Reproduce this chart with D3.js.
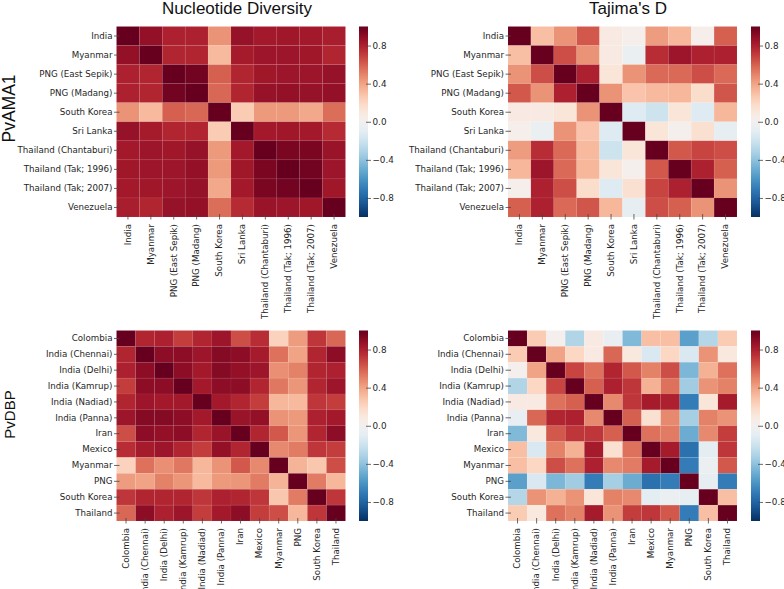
<!DOCTYPE html>
<html>
<head>
<meta charset="utf-8">
<script src="https://cdn.jsdelivr.net/npm/d3@7"></script>
<style>
  html, body { margin: 0; padding: 0; background: #fff; }
  svg { display: block; }
</style>
</head>
<body>
<svg id="chart" width="784" height="589"></svg>
<script>
// ---------- DATA ----------
const amaPops = ["India","Myanmar","PNG (East Sepik)","PNG (Madang)","South Korea","Sri Lanka","Thailand (Chantaburi)","Thailand (Tak; 1996)","Thailand (Tak; 2007)","Venezuela"];
const dbpPops = ["Colombia","India (Chennai)","India (Delhi)","India (Kamrup)","India (Nadiad)","India (Panna)","Iran","Mexico","Myanmar","PNG","South Korea","Thailand"];

const colTitles = ["Nucleotide Diversity", "Tajima's D"];
const rowTitles = ["PvAMA1", "PvDBP"];
const cbTicks = [0.8, 0.4, 0.0, -0.4, -0.8];

// PvAMA1 – nucleotide diversity correlations
const ndAma = [
  [1.00,0.88,0.80,0.80,0.45,0.87,0.83,0.84,0.83,0.81],
  [0.88,1.00,0.78,0.78,0.32,0.82,0.85,0.85,0.84,0.78],
  [0.80,0.78,1.00,0.97,0.60,0.78,0.84,0.85,0.85,0.87],
  [0.80,0.78,0.97,1.00,0.58,0.78,0.87,0.88,0.87,0.88],
  [0.45,0.32,0.60,0.58,1.00,0.25,0.43,0.43,0.38,0.56],
  [0.87,0.82,0.78,0.78,0.25,1.00,0.83,0.84,0.83,0.76],
  [0.83,0.85,0.84,0.87,0.43,0.83,1.00,0.95,0.95,0.86],
  [0.84,0.85,0.85,0.88,0.43,0.84,0.95,1.00,0.97,0.85],
  [0.83,0.84,0.85,0.87,0.38,0.83,0.95,0.97,1.00,0.84],
  [0.81,0.78,0.87,0.88,0.56,0.76,0.86,0.85,0.84,1.00]
];
// PvAMA1 – Tajima's D correlations
const tdAma = [
  [1.00,0.30,0.45,0.62,0.08,0.03,0.42,0.33,0.03,0.60],
  [0.30,1.00,0.65,0.45,0.08,-0.06,0.75,0.85,0.80,0.80],
  [0.45,0.65,1.00,0.80,0.12,0.45,0.57,0.57,0.65,0.57],
  [0.62,0.45,0.80,1.00,0.45,0.28,0.32,0.33,0.17,0.63],
  [0.08,0.08,0.12,0.45,1.00,-0.12,-0.20,0.12,-0.12,0.33],
  [0.03,-0.06,0.45,0.28,-0.12,1.00,0.12,0.02,0.15,-0.08],
  [0.42,0.75,0.57,0.32,-0.20,0.12,1.00,0.62,0.68,0.65],
  [0.33,0.85,0.57,0.33,0.12,0.02,0.62,1.00,0.80,0.60],
  [0.03,0.80,0.65,0.17,-0.12,0.15,0.68,0.80,1.00,0.45],
  [0.60,0.80,0.57,0.63,0.33,-0.08,0.65,0.60,0.45,1.00]
];
// PvDBP – nucleotide diversity correlations
const ndDbp = [
  [1.00,0.78,0.80,0.70,0.78,0.85,0.65,0.75,0.22,0.42,0.72,0.58],
  [0.78,1.00,0.90,0.90,0.85,0.92,0.90,0.82,0.55,0.40,0.78,0.90],
  [0.80,0.90,1.00,0.90,0.83,0.92,0.88,0.85,0.46,0.50,0.78,0.80],
  [0.70,0.90,0.90,1.00,0.83,0.90,0.90,0.78,0.53,0.44,0.78,0.85],
  [0.78,0.85,0.83,0.83,1.00,0.83,0.78,0.70,0.33,0.32,0.72,0.70],
  [0.85,0.92,0.92,0.90,0.83,1.00,0.86,0.88,0.45,0.43,0.80,0.83],
  [0.65,0.90,0.88,0.90,0.78,0.86,1.00,0.78,0.62,0.44,0.78,0.90],
  [0.75,0.82,0.85,0.78,0.70,0.88,0.78,1.00,0.48,0.52,0.72,0.70],
  [0.22,0.55,0.46,0.53,0.33,0.45,0.62,0.48,1.00,0.34,0.27,0.65],
  [0.42,0.40,0.50,0.44,0.32,0.43,0.44,0.52,0.34,1.00,0.52,0.33],
  [0.72,0.78,0.78,0.78,0.72,0.80,0.78,0.72,0.27,0.52,1.00,0.72],
  [0.58,0.90,0.80,0.85,0.70,0.83,0.90,0.70,0.65,0.33,0.72,1.00]
];
// PvDBP – Tajima's D correlations
const tdDbp = [
  [1.00,0.25,0.02,-0.30,0.08,-0.07,-0.44,0.30,0.30,-0.55,-0.29,0.25],
  [0.25,1.00,0.40,0.20,0.08,0.58,0.10,-0.15,0.20,-0.15,0.45,0.10],
  [0.02,0.40,1.00,0.68,0.55,0.78,0.62,0.50,0.65,-0.45,0.35,0.55],
  [-0.30,0.20,0.68,1.00,0.60,0.80,0.72,0.35,0.55,-0.35,0.45,0.50],
  [0.08,0.08,0.55,0.60,1.00,0.48,0.72,0.82,0.80,-0.70,0.12,0.82],
  [-0.07,0.58,0.78,0.80,0.48,1.00,0.60,0.15,0.48,-0.33,0.50,0.45],
  [-0.44,0.10,0.62,0.72,0.72,0.60,1.00,0.55,0.52,-0.50,0.48,0.70],
  [0.30,-0.15,0.50,0.35,0.82,0.15,0.55,1.00,0.82,-0.75,-0.10,0.72],
  [0.30,0.20,0.65,0.55,0.80,0.48,0.52,0.82,1.00,-0.70,-0.05,0.62],
  [-0.55,-0.15,-0.45,-0.35,-0.70,-0.33,-0.50,-0.75,-0.70,1.00,-0.08,-0.70],
  [-0.29,0.45,0.35,0.45,0.12,0.50,0.48,-0.10,-0.05,-0.08,1.00,0.30],
  [0.25,0.10,0.55,0.50,0.82,0.45,0.70,0.72,0.62,-0.70,0.30,1.00]
];

// ---------- LAYOUT ----------
const panels = [
  {labels: amaPops, m: ndAma, x0: 116.5, y0: 26.5, w: 229, h: 190.5, cbx: 359, title: colTitles[0], tx: 237},
  {labels: amaPops, m: tdAma, x0: 508,   y0: 26.5, w: 229, h: 190.5, cbx: 751, title: colTitles[1], tx: 628},
  {labels: dbpPops, m: ndDbp, x0: 116.5, y0: 330.5, w: 229, h: 190.5, cbx: 359},
  {labels: dbpPops, m: tdDbp, x0: 508,   y0: 330.5, w: 229, h: 190.5, cbx: 751}
];
const cbW = 9;
const textCol = "#262626";
const tickFont = "DejaVu Sans, sans-serif";
const tickSize = 8.7;

const svg = d3.select("#chart");
const color = d3.scaleSequential(d3.interpolateRdBu).domain([1, -1]);

// gradient for colorbars
const defs = svg.append("defs");
const grad = defs.append("linearGradient").attr("id", "cbgrad")
  .attr("x1", 0).attr("y1", 1).attr("x2", 0).attr("y2", 0);
d3.range(0, 41).forEach(i => {
  const t = i / 40;
  grad.append("stop").attr("offset", t).attr("stop-color", color(-1 + 2 * t));
});

panels.forEach(p => {
  const x = d3.scaleBand().domain(p.labels).range([p.x0, p.x0 + p.w]);
  const y = d3.scaleBand().domain(p.labels).range([p.y0, p.y0 + p.h]);
  const cells = [];
  p.m.forEach((row, i) => row.forEach((v, j) => cells.push({r: p.labels[i], c: p.labels[j], v})));

  const g = svg.append("g");
  g.selectAll("rect.cell").data(cells).enter().append("rect")
    .attr("class", "cell")
    .attr("x", d => x(d.c)).attr("y", d => y(d.r))
    .attr("width", x.bandwidth()).attr("height", y.bandwidth())
    .attr("fill", d => color(d.v))
    .attr("stroke", "rgba(255,255,255,0.06)").attr("stroke-width", 0.8);

  // y axis
  const ya = svg.append("g").attr("transform", `translate(${p.x0},0)`)
    .call(d3.axisLeft(y).tickSize(2.5).tickPadding(1.5));
  ya.select(".domain").remove();
  ya.selectAll(".tick line").attr("x2", 3).attr("x1", -2.5).attr("stroke", "#444").attr("stroke-width", 0.8);
  ya.selectAll("text").attr("font-family", tickFont).attr("font-size", tickSize).attr("fill", textCol);

  // x axis
  const xa = svg.append("g").attr("transform", `translate(0,${p.y0 + p.h})`)
    .call(d3.axisBottom(x).tickSize(2.5).tickPadding(1.5));
  xa.select(".domain").remove();
  xa.selectAll(".tick line").attr("y1", -3).attr("y2", 2.5).attr("stroke", "#444").attr("stroke-width", 0.8);
  xa.selectAll("text")
    .attr("font-family", tickFont).attr("font-size", tickSize).attr("fill", textCol)
    .attr("transform", "rotate(-90)")
    .attr("text-anchor", "end")
    .attr("x", -7).attr("y", 0).attr("dy", "0.32em");

  // colorbar
  svg.append("rect").attr("x", p.cbx).attr("y", p.y0).attr("width", cbW).attr("height", p.h)
    .attr("fill", "url(#cbgrad)");
  const cs = d3.scaleLinear().domain([-1, 1]).range([p.y0 + p.h, p.y0]);
  const ca = svg.append("g").attr("transform", `translate(${p.cbx + cbW},0)`)
    .call(d3.axisRight(cs).tickValues(cbTicks).tickFormat(d3.format(".1f")).tickSize(3).tickPadding(1.5));
  ca.select(".domain").remove();
  ca.selectAll(".tick line").attr("x1", -2).attr("stroke", "#444").attr("stroke-width", 0.8);
  ca.selectAll("text").attr("font-family", tickFont).attr("font-size", 8.8).attr("fill", textCol);

  if (p.title) {
    svg.append("text").attr("x", p.tx).attr("y", 13.5)
      .attr("text-anchor", "middle")
      .attr("font-family", "Liberation Sans, Arial, sans-serif").attr("font-size", 17)
      .attr("fill", "#111").text(p.title);
  }
});

// row titles
svg.append("text").attr("transform", "translate(14.5,108.5) rotate(-90)")
  .attr("text-anchor", "middle").attr("font-family", "Liberation Sans, Arial, sans-serif")
  .attr("font-size", 17.5).attr("fill", "#111").text(rowTitles[0]);
svg.append("text").attr("transform", "translate(14.5,414.5) rotate(-90)")
  .attr("text-anchor", "middle").attr("font-family", "Liberation Sans, Arial, sans-serif")
  .attr("font-size", 15).attr("fill", "#111").text(rowTitles[1]);
</script>
</body>
</html>
